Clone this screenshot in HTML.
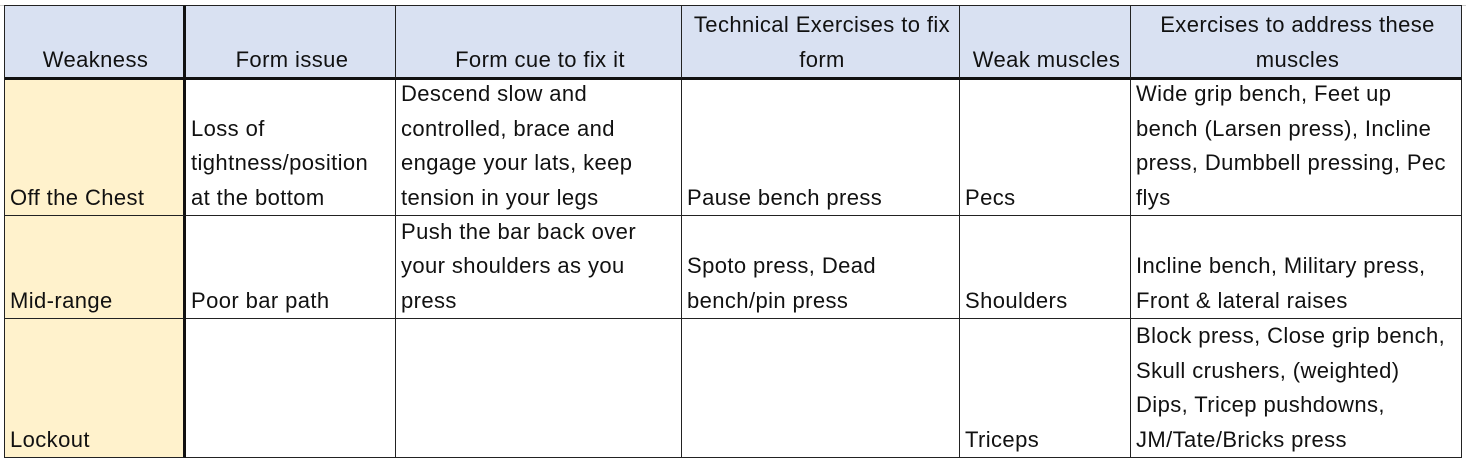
<!DOCTYPE html>
<html><head><meta charset="utf-8"><style>
html,body{margin:0;padding:0;background:#fff;width:1466px;height:462px;overflow:hidden}
.c{position:absolute;box-sizing:border-box;display:flex;flex-direction:column;justify-content:flex-end;font-family:"Liberation Sans",sans-serif;font-size:22px;letter-spacing:0.4px;line-height:34.5px;color:#111;padding:0 2px 0 5px;white-space:nowrap;border-right:1px solid #222;border-bottom:1px solid #222}
.h{background:#d9e1f2;text-align:center;border-bottom:3px solid #111}
.y{background:#fff2cc;border-right:3px solid #111}
</style></head><body>
<div style="position:absolute;left:0;top:0;width:1466px;height:5px;border-bottom:1px solid #ccc"></div>
<div style="position:absolute;left:4px;top:5px;width:1px;height:453px;background:#222"></div>
<div style="position:absolute;left:4px;top:5px;width:1458px;height:1px;background:#222"></div>

<div class="c h" style="left:5px;top:6px;width:181px;height:74px;border-right:3px solid #111">Weakness</div>
<div class="c h" style="left:186px;top:6px;width:210px;height:74px">Form issue</div>
<div class="c h" style="left:396px;top:6px;width:286px;height:74px">Form cue to fix it</div>
<div class="c h" style="left:682px;top:6px;width:278px;height:74px">Technical Exercises to fix<br>form</div>
<div class="c h" style="left:960px;top:6px;width:171px;height:74px">Weak muscles</div>
<div class="c h" style="left:1131px;top:6px;width:331px;height:74px">Exercises to address these<br>muscles</div>

<div class="c y" style="left:5px;top:80px;width:181px;height:136px">Off the Chest</div>
<div class="c" style="left:186px;top:80px;width:210px;height:136px">Loss of<br>tightness/position<br>at the bottom</div>
<div class="c" style="left:396px;top:80px;width:286px;height:136px">Descend slow and<br>controlled, brace and<br>engage your lats, keep<br>tension in your legs</div>
<div class="c" style="left:682px;top:80px;width:278px;height:136px">Pause bench press</div>
<div class="c" style="left:960px;top:80px;width:171px;height:136px">Pecs</div>
<div class="c" style="left:1131px;top:80px;width:331px;height:136px">Wide grip bench, Feet up<br>bench (Larsen press), Incline<br>press, Dumbbell pressing, Pec<br>flys</div>

<div class="c y" style="left:5px;top:216px;width:181px;height:103px">Mid-range</div>
<div class="c" style="left:186px;top:216px;width:210px;height:103px">Poor bar path</div>
<div class="c" style="left:396px;top:216px;width:286px;height:103px">Push the bar back over<br>your shoulders as you<br>press</div>
<div class="c" style="left:682px;top:216px;width:278px;height:103px">Spoto press, Dead<br>bench/pin press</div>
<div class="c" style="left:960px;top:216px;width:171px;height:103px">Shoulders</div>
<div class="c" style="left:1131px;top:216px;width:331px;height:103px">Incline bench, Military press,<br>Front &amp; lateral raises</div>

<div class="c y" style="left:5px;top:319px;width:181px;height:139px">Lockout</div>
<div class="c" style="left:186px;top:319px;width:210px;height:139px"></div>
<div class="c" style="left:396px;top:319px;width:286px;height:139px"></div>
<div class="c" style="left:682px;top:319px;width:278px;height:139px"></div>
<div class="c" style="left:960px;top:319px;width:171px;height:139px">Triceps</div>
<div class="c" style="left:1131px;top:319px;width:331px;height:139px">Block press, Close grip bench,<br>Skull crushers, (weighted)<br>Dips, Tricep pushdowns,<br>JM/Tate/Bricks press</div>
</body></html>
